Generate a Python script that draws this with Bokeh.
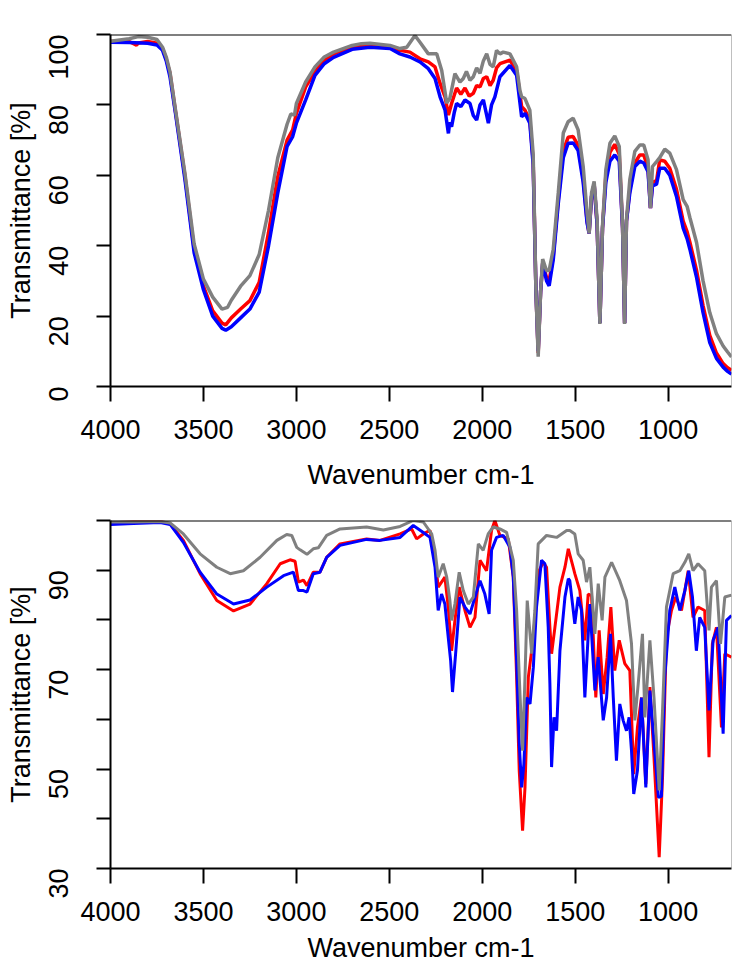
import math
from bokeh.plotting import figure
from bokeh.models import Range1d, FixedTicker, Span
from bokeh.layouts import column
from bokeh.embed import file_html
from bokeh.resources import INLINE

# ---------------- data: top panel ----------------
top_gray_wn = [4000, 3900, 3850, 3800, 3750, 3720, 3700, 3680, 3650, 3600, 3550, 3500, 3450, 3400, 3370,
               3350, 3300, 3250, 3200, 3150, 3100, 3050, 3030, 3010, 3000, 2950, 2900, 2850, 2800, 2700,
               2650, 2604, 2496, 2443, 2406, 2362, 2335, 2290, 2245, 2218, 2191, 2174, 2147, 2120, 2102,
               2085, 2066, 2048, 2030, 2012, 1994, 1976, 1958, 1941, 1923, 1905, 1887, 1851, 1815, 1797,
               1788, 1770, 1744, 1726, 1711, 1699, 1686, 1675, 1654, 1640, 1618, 1591, 1564, 1538, 1511,
               1484, 1457, 1436, 1425, 1412, 1398, 1382, 1367, 1353, 1335, 1313, 1287, 1263, 1245, 1234,
               1224, 1206, 1179, 1152, 1131, 1108, 1095, 1084, 1062, 1045, 1018, 991, 955, 919, 898,
               883, 847, 812, 776, 740, 704, 680, 659]
top_gray_t = [98.1, 98.8, 99.4, 99.2, 98.6, 96.4, 93.6, 89.4, 78.5, 60.7, 40.5, 30.5, 25.4, 22.0, 22.5,
              24.5, 28.5, 31.5, 37.5, 50.0, 65.0, 74.5, 77.4, 77.1, 80.4, 86.5, 90.8, 93.6, 95.0, 96.9,
              97.4, 97.5, 96.9, 96.0, 96.4, 99.7, 97.8, 94.5, 94.5, 89.8, 80.5, 81.9, 88.9, 86.5, 87.5,
              89.5, 87.0, 88.0, 90.5, 89.0, 92.5, 94.5, 91.5, 90.8, 95.5, 94.5, 95.0, 94.5, 90.8, 84.0,
              82.3, 81.8, 78.5, 66.0, 27.0, 8.5, 27.0, 36.2, 32.9, 33.0, 39.0, 55.0, 72.0, 75.2, 76.2,
              72.9, 62.5, 49.4, 43.5, 55.0, 58.3, 47.5, 17.8, 45.6, 61.6, 69.1, 71.2, 68.2, 45.6, 17.8,
              47.5, 58.8, 66.8, 68.6, 68.6, 64.4, 50.7, 62.5, 63.9, 65.0, 67.4, 66.3, 61.6, 53.1, 51.2,
              48.0, 40.9, 30.0, 21.0, 15.0, 11.5, 9.8, 8.4]

top_red_wn = [4000, 3900, 3860, 3850, 3800, 3750, 3720, 3700, 3680, 3650, 3600, 3550, 3500, 3450, 3400,
              3380, 3350, 3300, 3250, 3200, 3150, 3100, 3050, 3020, 3000, 2950, 2900, 2850, 2800, 2700,
              2604, 2496, 2443, 2389, 2335, 2290, 2254, 2227, 2200, 2182, 2165, 2138, 2115, 2093, 2070,
              2048, 2030, 2012, 1994, 1976, 1958, 1941, 1923, 1905, 1851, 1815, 1788, 1770, 1744, 1726,
              1711, 1699, 1686, 1675, 1654, 1640, 1618, 1591, 1564, 1538, 1511, 1484, 1457, 1436, 1425,
              1412, 1398, 1382, 1367, 1353, 1335, 1313, 1287, 1263, 1245, 1234, 1224, 1206, 1179, 1152,
              1131, 1108, 1095, 1084, 1062, 1045, 1018, 991, 955, 919, 898, 883, 847, 812, 776,
              740, 704, 680, 659]
top_red_t = [98.0, 98.0, 97.0, 97.6, 98.0, 97.5, 96.0, 93.0, 89.0, 78.0, 60.0, 39.0, 28.5, 21.5, 18.0,
             17.5, 19.5, 22.0, 24.4, 29.6, 43.7, 59.7, 70.0, 72.9, 77.6, 85.1, 89.4, 92.7, 94.5, 96.5,
             97.2, 96.4, 95.5, 95.0, 93.1, 92.2, 90.8, 86.1, 82.3, 77.1, 80.4, 84.8, 83.0, 84.8, 82.5,
             83.3, 85.5, 85.1, 87.5, 88.0, 85.5, 87.0, 90.5, 91.7, 92.7, 89.8, 79.5, 78.5, 75.7, 64.0,
             27.0, 9.5, 27.0, 35.0, 31.0, 30.0, 37.0, 53.0, 67.0, 70.8, 71.0, 68.5, 59.0, 47.0, 43.5,
             54.0, 57.5, 46.0, 18.0, 45.0, 60.0, 66.5, 68.8, 66.0, 45.0, 18.0, 47.0, 56.0, 63.5, 65.8,
             65.8, 62.0, 50.7, 58.0, 58.5, 64.4, 64.0, 62.0, 56.0, 47.0, 44.0, 41.0, 33.0, 23.0, 14.5,
             9.5, 6.5, 5.3, 4.6]

top_blue_wn = [4000, 3900, 3800, 3750, 3720, 3700, 3680, 3650, 3600, 3550, 3500, 3450, 3400, 3380, 3350,
               3300, 3250, 3200, 3150, 3100, 3050, 3020, 3000, 2950, 2900, 2850, 2800, 2700, 2604, 2496,
               2443, 2389, 2335, 2290, 2254, 2227, 2200, 2182, 2175, 2165, 2150, 2138, 2115, 2093, 2066,
               2048, 2030, 2012, 1994, 1980, 1967, 1950, 1932, 1905, 1851, 1815, 1788, 1770, 1744, 1726,
               1711, 1699, 1686, 1675, 1654, 1640, 1618, 1591, 1564, 1538, 1511, 1484, 1457, 1436, 1425,
               1412, 1398, 1382, 1367, 1353, 1335, 1313, 1287, 1263, 1245, 1234, 1224, 1206, 1179, 1152,
               1131, 1108, 1095, 1084, 1062, 1045, 1018, 991, 955, 919, 898, 883, 847, 812, 776,
               740, 704, 680, 659]
top_blue_t = [97.8, 97.7, 97.5, 97.0, 95.5, 92.5, 88.0, 77.5, 59.0, 38.0, 27.5, 20.0, 16.5, 16.0, 17.0,
              19.5, 22.0, 26.8, 39.9, 55.0, 68.2, 71.0, 74.8, 81.4, 88.4, 91.7, 93.5, 95.8, 96.4, 96.0,
              94.5, 93.6, 92.2, 90.3, 87.5, 82.3, 78.5, 71.9, 75.0, 73.8, 78.0, 80.4, 79.5, 81.4, 80.4,
              77.0, 75.7, 80.0, 81.4, 78.0, 74.8, 80.0, 82.3, 88.0, 91.2, 88.4, 76.6, 77.6, 74.8, 63.0,
              27.0, 10.0, 27.0, 35.0, 30.0, 28.6, 36.0, 52.0, 65.0, 69.1, 69.2, 67.0, 58.0, 46.5, 43.5,
              54.0, 57.5, 46.0, 18.0, 45.0, 58.0, 64.0, 65.8, 64.0, 45.0, 18.0, 47.0, 55.0, 62.5, 64.0,
              63.5, 61.0, 50.7, 57.0, 57.5, 62.0, 62.0, 60.0, 54.0, 45.0, 42.0, 39.0, 31.0, 21.0, 12.5,
              8.0, 5.5, 4.3, 3.5]

# ---------------- data: bottom panel ----------------
bot_gray_wn = [4000, 3876, 3733, 3679, 3608, 3518, 3428, 3356, 3285, 3195, 3105, 3052, 3025, 2998, 2980,
               2943, 2909, 2882, 2837, 2765, 2622, 2532, 2442, 2371, 2317, 2272, 2254, 2237, 2210, 2191,
               2174, 2165, 2147, 2124, 2102, 2075, 2048, 2021, 1995, 1968, 1941, 1905, 1869, 1833, 1815,
               1797, 1783, 1770, 1758, 1734, 1717, 1699, 1654, 1600, 1546, 1529, 1502, 1484, 1457, 1439,
               1421, 1394, 1376, 1355, 1340, 1304, 1260, 1224, 1197, 1179, 1161, 1138, 1125, 1098, 1076,
               1048, 1030, 1009, 973, 937, 910, 889, 866, 839, 803, 780, 767, 740, 718, 695, 659]
bot_gray_t = [99.7, 99.7, 99.8, 99.5, 97.3, 93.3, 90.6, 89.3, 89.9, 92.6, 96.0, 97.2, 97.0, 94.6, 94.1,
              93.2, 94.3, 94.5, 97.0, 98.3, 98.7, 98.1, 98.8, 100.0, 99.7, 97.3, 94.0, 88.6, 91.3, 88.6,
              83.9, 79.9, 83.2, 89.6, 85.9, 83.2, 84.6, 95.3, 94.0, 97.3, 98.7, 98.3, 97.6, 92.0, 81.9,
              65.1, 53.7, 68.5, 83.9, 73.2, 81.9, 95.3, 97.0, 96.6, 98.0, 98.0, 97.3, 93.3, 92.0, 87.6,
              90.6, 77.2, 87.3, 79.9, 88.6, 91.6, 87.9, 83.9, 75.2, 59.8, 67.1, 77.2, 60.4, 75.9, 64.4,
              45.7, 61.8, 82.6, 89.3, 89.9, 91.6, 93.3, 89.9, 91.3, 89.9, 77.9, 86.6, 87.9, 75.2, 84.6, 85.0]

bot_red_wn = [4000, 3876, 3733, 3679, 3608, 3518, 3428, 3338, 3249, 3159, 3087, 3034, 3007, 2989, 2962,
              2943, 2909, 2873, 2837, 2765, 2622, 2550, 2442, 2380, 2353, 2317, 2281, 2254, 2237, 2201,
              2183, 2165, 2147, 2124, 2093, 2066, 2039, 2012, 1977, 1950, 1932, 1905, 1860, 1833, 1815,
              1801, 1783, 1770, 1752, 1734, 1717, 1694, 1672, 1654, 1636, 1627, 1609, 1582, 1555, 1537,
              1511, 1502, 1475, 1448, 1430, 1412, 1389, 1371, 1349, 1328, 1308, 1287, 1263, 1233, 1206,
              1185, 1165, 1143, 1120, 1098, 1076, 1048, 1030, 1009, 982, 959, 928, 892, 866, 839,
              803, 780, 762, 740, 713, 695, 659]
bot_red_t = [99.5, 99.8, 99.9, 99.3, 96.0, 89.3, 83.9, 81.8, 83.2, 87.3, 91.3, 92.1, 91.8, 87.6, 88.0,
             86.9, 89.6, 89.6, 92.6, 95.3, 96.3, 96.0, 97.3, 98.3, 96.3, 97.3, 98.0, 92.6, 86.6, 88.6,
             82.6, 73.8, 79.9, 86.6, 81.9, 78.5, 80.5, 92.0, 89.9, 98.0, 100.0, 97.0, 96.3, 88.6, 68.5,
             49.7, 37.6, 46.3, 68.5, 73.8, 79.9, 89.9, 91.6, 90.6, 78.5, 73.2, 78.5, 86.6, 90.6, 94.3,
             90.6, 89.3, 85.9, 75.9, 85.2, 84.9, 64.4, 77.9, 65.1, 72.5, 82.6, 69.8, 75.9, 71.2, 69.8,
             49.0, 58.4, 64.4, 47.0, 66.5, 52.4, 32.3, 48.4, 76.5, 81.9, 84.6, 81.9, 89.9, 80.5, 82.6,
             81.9, 52.4, 75.2, 78.5, 58.4, 73.2, 72.5]

bot_blue_wn = [4000, 3876, 3733, 3679, 3608, 3518, 3428, 3338, 3249, 3159, 3069, 3016, 2989, 2962, 2943,
               2909, 2873, 2837, 2765, 2622, 2550, 2442, 2371, 2317, 2281, 2254, 2237, 2219, 2201, 2183,
               2170, 2160, 2142, 2120, 2093, 2066, 2039, 2012, 1986, 1963, 1950, 1923, 1887, 1851, 1833,
               1815, 1801, 1788, 1776, 1761, 1743, 1725, 1708, 1681, 1663, 1645, 1636, 1627, 1614, 1600,
               1582, 1555, 1537, 1529, 1502, 1484, 1466, 1448, 1421, 1394, 1376, 1349, 1331, 1310, 1295,
               1278, 1260, 1242, 1224, 1210, 1197, 1185, 1165, 1143, 1120, 1098, 1071, 1052, 1036, 1018,
               991, 964, 937, 910, 889, 869, 848, 830, 803, 780, 758, 731, 704, 686, 659]
bot_blue_t = [99.2, 99.4, 99.6, 99.2, 95.6, 89.6, 85.2, 83.2, 84.0, 86.6, 88.9, 89.6, 85.9, 85.9, 85.6,
              89.3, 89.6, 92.6, 95.0, 96.2, 96.0, 96.6, 99.0, 97.6, 96.6, 90.6, 81.9, 85.2, 83.2, 76.5,
              71.8, 65.5, 73.8, 84.6, 82.6, 81.2, 84.6, 87.9, 85.2, 81.2, 94.0, 96.6, 97.0, 94.6, 88.6,
              71.8, 55.1, 46.3, 51.0, 64.4, 63.1, 70.5, 82.6, 92.0, 91.3, 78.5, 67.1, 50.4, 60.4, 57.7,
              73.8, 84.6, 88.3, 87.9, 79.2, 84.6, 81.9, 64.4, 83.2, 65.8, 72.5, 59.8, 64.4, 77.2, 64.4,
              51.7, 63.1, 59.8, 57.7, 60.4, 53.7, 45.0, 49.7, 64.4, 46.3, 65.8, 53.1, 44.3, 44.5, 68.5,
              81.9, 86.6, 81.9, 85.9, 89.9, 84.6, 73.8, 80.5, 78.5, 61.8, 75.9, 78.5, 57.1, 79.9, 80.9]

x_ticks = [4000, 3500, 3000, 2500, 2000, 1500, 1000]
top_y_ticks = [0, 20, 40, 60, 80, 100]
bot_y_ticks = [30, 40, 50, 60, 70, 80, 90, 100]
bot_y_hidden = [40, 60, 80, 100]
x_title = "Wavenumber cm-1"
y_title = "Transmittance [%]"
X_START, X_END = 4000, 659

RED, BLUE, GRAY = "#ff0000", "#0000ff", "#808080"
FONT = "Liberation Sans"


def style(p, yticks, hidden, lab_so, title_so):
    p.xaxis.ticker = FixedTicker(ticks=x_ticks)
    p.yaxis.ticker = FixedTicker(ticks=yticks)
    p.yaxis.major_label_overrides = {v: "" for v in hidden}
    p.xgrid.visible = False
    p.ygrid.visible = False
    p.outline_line_color = None
    p.background_fill_color = "white"
    p.border_fill_color = "white"
    for ax in (p.xaxis[0], p.yaxis[0]):
        ax.axis_line_color = "black"
        ax.axis_line_width = 2
        ax.major_tick_line_color = "black"
        ax.major_tick_line_width = 2
        ax.major_tick_in = 0
        ax.minor_tick_line_color = None
        ax.major_label_text_font = FONT
        ax.major_label_text_font_size = "27px"
        ax.major_label_text_color = "black"
        ax.axis_label_text_font = FONT
        ax.axis_label_text_font_size = "27px"
        ax.axis_label_text_font_style = "normal"
        ax.axis_label_text_color = "black"
    p.xaxis.major_tick_out = 15
    p.yaxis.major_tick_out = 14
    p.xaxis.major_label_standoff = lab_so
    p.xaxis.axis_label_standoff = title_so
    p.yaxis.major_label_standoff = 38
    p.yaxis.axis_label_standoff = 1
    p.yaxis.major_label_orientation = math.pi / 2
    p.xaxis.axis_label = x_title
    p.yaxis.axis_label = y_title
    p.add_layout(Span(location=p.y_range.end, dimension="width", line_color="black", line_width=2))
    p.add_layout(Span(location=X_END, dimension="height", line_color=GRAY, line_width=1))


p1 = figure(width=732, height=492, x_range=Range1d(X_START, X_END), y_range=Range1d(0, 100),
            output_backend="svg", toolbar_location=None,
            min_border_left=110, min_border_right=1, min_border_top=34, min_border_bottom=104)
p1.line(top_red_wn, top_red_t, line_color=RED, line_width=3.5)
p1.line(top_blue_wn, top_blue_t, line_color=BLUE, line_width=3.5)
p1.line(top_gray_wn, top_gray_t, line_color=GRAY, line_width=3.5)
style(p1, top_y_ticks, [], 18, 18)

p2 = figure(width=732, height=473, x_range=Range1d(X_START, X_END), y_range=Range1d(30, 100),
            output_backend="svg", toolbar_location=None,
            min_border_left=110, min_border_right=1, min_border_top=28, min_border_bottom=97)
p2.line(bot_red_wn, bot_red_t, line_color=RED, line_width=3)
p2.line(bot_blue_wn, bot_blue_t, line_color=BLUE, line_width=3)
p2.line(bot_gray_wn, bot_gray_t, line_color=GRAY, line_width=3)
style(p2, bot_y_ticks, bot_y_hidden, 18, 9)

layout = column(p1, p2)
open("out.html", "w").write(file_html(layout, INLINE))
